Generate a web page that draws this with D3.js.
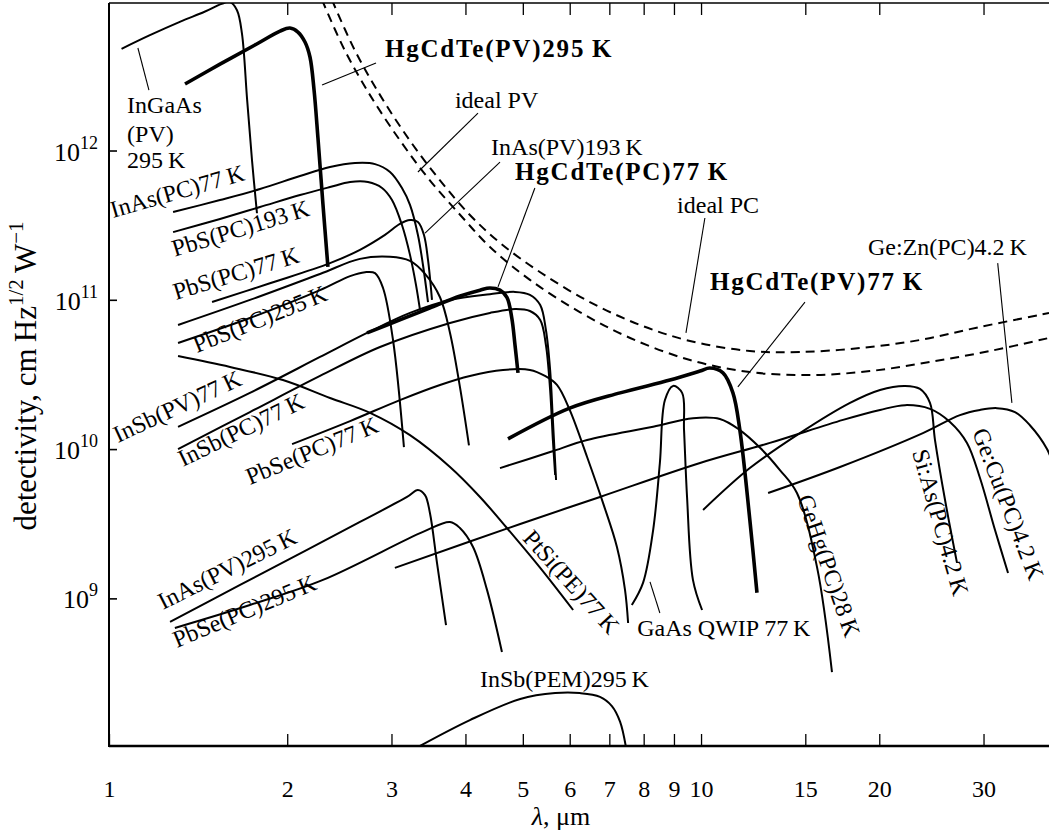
<!DOCTYPE html>
<html>
<head>
<meta charset="utf-8">
<script src="https://cdn.jsdelivr.net/npm/d3@7"></script>
<style>
  body { margin: 0; background: #fff; }
  svg text { font-family: "Liberation Serif", serif; fill: #000; }
</style>
</head>
<body>
<svg width="1049" height="832"></svg>
<script>
// axis ticks
var xTickValues = [1, 2, 3, 4, 5, 6, 7, 8, 9, 10, 15, 20, 30];
var yTickPowers = [9, 10, 11, 12];

// curves: wavelength (um) and detectivity (cm Hz^1/2 W^-1)
var lamInGaAs = [1.05, 1.17, 1.32, 1.45, 1.55, 1.60, 1.645, 1.677, 1.711, 1.744, 1.778];
var dInGaAs   = [4.8e12, 5.9e12, 7.3e12, 8.5e12, 9.6e12, 9.9e12, 8.7e12, 6.1e12, 2.2e12, 8.6e11, 3.8e11];

var lamHgCdTePV295 = [1.344, 1.54, 1.764, 1.945, 2.021, 2.085, 2.143, 2.185, 2.22, 2.254, 2.298, 2.343];
var dHgCdTePV295   = [2.79e12, 3.79e12, 5.09e12, 6.31e12, 6.61e12, 6.22e12, 5.33e12, 4.23e12, 2.54e12, 1.21e12, 4.38e11, 1.66e11];

var lamIdealPC = [2.38, 2.60, 2.87, 3.22, 3.62, 4.07, 4.58, 5.35, 6.49, 7.89, 9.58, 12.09, 14.69, 18.56, 23.43, 29.59, 38.7];
var dIdealPC   = [1.02e13, 4.71e12, 2.35e12, 1.17e12, 6.34e11, 3.70e11, 2.40e11, 1.53e11, 9.66e10, 6.78e10, 5.30e10, 4.54e10, 4.47e10, 4.75e10, 5.38e10, 6.58e10, 8.15e10];

var lamIdealPV = [2.29, 2.50, 2.76, 3.10, 3.48, 3.92, 4.40, 5.14, 6.24, 7.59, 9.58, 12.09, 15.28, 19.29, 24.36, 30.76, 38.7];
var dIdealPV   = [1.02e13, 4.71e12, 2.35e12, 1.17e12, 6.34e11, 3.70e11, 2.26e11, 1.36e11, 8.28e10, 5.55e10, 3.95e10, 3.28e10, 3.13e10, 3.33e10, 3.83e10, 4.54e10, 5.55e10];

var lamInAsPC77 = [1.283, 1.54, 1.799, 2.102, 2.362, 2.603, 2.814, 2.983, 3.125, 3.224, 3.325, 3.391, 3.458];
var dInAsPC77   = [3.87e11, 4.66e11, 5.52e11, 6.75e11, 7.75e11, 8.24e11, 8.11e11, 7.18e11, 5.61e11, 4.32e11, 2.72e11, 1.71e11, 9.66e10];

var lamPbSPC193 = [1.283, 1.54, 1.799, 2.102, 2.362, 2.554, 2.738, 2.892, 3.006, 3.125, 3.224, 3.30, 3.352];
var dPbSPC193   = [2.84e11, 3.48e11, 4.18e11, 5.03e11, 5.69e11, 6.15e11, 6.15e11, 5.61e11, 4.66e11, 3.17e11, 2.0e11, 1.26e11, 8.55e10];

var lamInAsPV193 = [1.493, 1.87, 2.362, 2.654, 2.925, 3.10, 3.224, 3.325, 3.404, 3.458, 3.512];
var dInAsPV193   = [9.66e10, 1.29e11, 1.76e11, 2.16e11, 2.72e11, 3.22e11, 3.42e11, 3.32e11, 2.72e11, 1.85e11, 9.98e10];

var lamPbSPC77 = [1.308, 1.73, 2.272, 2.654, 2.983, 3.224, 3.418, 3.623, 3.767, 3.915, 4.055];
var dPbSPC77   = [6.78e10, 9.98e10, 1.49e11, 1.88e11, 1.94e11, 1.82e11, 1.49e11, 1.04e11, 6.0e10, 2.61e10, 1.06e10];

var lamPbSPC295 = [1.308, 1.73, 2.272, 2.554, 2.707, 2.814, 2.903, 3.018, 3.149];
var dPbSPC295   = [5.14e10, 7.55e10, 1.16e11, 1.44e11, 1.53e11, 1.51e11, 1.20e11, 5.38e10, 1.03e10];

var lamHgCdTePC77 = [2.728, 3.10, 3.48, 3.92, 4.233, 4.40, 4.575, 4.70, 4.79, 4.85, 4.907];
var dHgCdTePC77   = [6.0e10, 7.33e10, 8.81e10, 1.06e11, 1.16e11, 1.20e11, 1.16e11, 1.04e11, 7.55e10, 4.98e10, 3.24e10];

var lamInSbPV77 = [1.308, 1.73, 2.272, 2.728, 3.224, 3.767, 4.40, 4.85, 5.14, 5.35, 5.47, 5.56, 5.62, 5.69];
var dInSbPV77   = [1.41e10, 2.38e10, 4.14e10, 6.0e10, 8.17e10, 9.98e10, 1.09e11, 1.13e11, 1.08e11, 9.23e10, 6.28e10, 3.39e10, 1.57e10, 6.21e9];

var lamInSbPC77 = [1.308, 1.73, 2.272, 2.869, 3.767, 4.40, 4.85, 5.14, 5.35, 5.47, 5.56, 5.62, 5.67];
var dInSbPC77   = [1.0e10, 1.77e10, 3.09e10, 4.83e10, 7.0e10, 8.17e10, 8.67e10, 8.41e10, 7.33e10, 4.98e10, 2.49e10, 1.15e10, 6.7e9];

var lamPbSePC77 = [2.038, 2.554, 3.10, 3.623, 4.07, 4.63, 5.14, 5.45, 5.71, 6.0, 6.42, 6.83, 7.21, 7.44, 7.53];
var dPbSePC77   = [1.08e10, 1.54e10, 2.13e10, 2.69e10, 3.09e10, 3.39e10, 3.39e10, 3.09e10, 2.69e10, 1.83e10, 8.85e9, 4.36e9, 2.21e9, 1.14e9, 6.84e8];

var lamPtSi = [1.308, 1.601, 1.967, 2.362, 2.76, 3.224, 3.767, 4.233, 4.70, 5.35, 6.08];
var dPtSi   = [4.2e10, 3.55e10, 2.90e10, 2.20e10, 1.75e10, 1.24e10, 7.59e9, 4.78e9, 2.96e9, 1.60e9, 8.36e8];

var lamInAsPV295 = [1.268, 1.665, 2.16, 2.654, 3.187, 3.325, 3.418, 3.484, 3.581, 3.709];
var dInAsPV295   = [6.95e8, 1.23e9, 2.11e9, 3.25e9, 4.78e9, 5.32e9, 4.92e9, 3.73e9, 1.73e9, 6.63e8];

var lamPbSePC295 = [1.292, 1.73, 2.298, 3.391, 3.767, 3.915, 4.12, 4.35, 4.61];
var dPbSePC295   = [6.34e8, 9.03e8, 1.33e9, 2.79e9, 3.25e9, 2.96e9, 2.21e9, 1.14e9, 4.37e8];

var lamHgCdTePV77 = [4.72, 6.0, 7.30, 8.86, 9.96, 10.35, 10.89, 11.32, 11.63, 12.09, 12.43];
var dHgCdTePV77   = [1.17e10, 1.88e10, 2.38e10, 2.90e10, 3.33e10, 3.49e10, 3.24e10, 2.38e10, 1.34e10, 3.35e9, 1.09e9];

var lamGaAsQWIP = [7.64, 7.98, 8.30, 8.52, 8.69, 8.97, 9.29, 9.36, 9.47, 9.69, 10.04];
var dGaAsQWIP   = [9.03e8, 1.27e9, 2.87e9, 8.07e9, 2.13e10, 2.65e10, 2.38e10, 1.34e10, 4.78e9, 1.33e9, 8.36e8];

var lamGeHg = [4.575, 5.56, 6.42, 8.30, 9.69, 10.76, 11.63, 12.58, 13.59, 14.52, 15.70, 16.64];
var dGeHg   = [7.46e9, 9.55e9, 1.15e10, 1.41e10, 1.61e10, 1.59e10, 1.34e10, 1.02e10, 7.24e9, 5.08e9, 1.62e9, 3.21e8];

var lamSiAs = [10.08, 12.09, 14.69, 17.85, 20.06, 22.11, 23.43, 24.36, 24.84, 25.83, 27.06];
var dSiAs   = [3.91e9, 7.46e9, 1.28e10, 2.04e10, 2.49e10, 2.65e10, 2.53e10, 2.04e10, 1.15e10, 4.56e9, 1.73e9];

var lamGeCu = [3.04, 4.95, 6.75, 9.96, 13.07, 17.37, 20.06, 22.11, 24.36, 26.33, 28.13, 29.59, 31.37, 33.0];
var dGeCu   = [1.60e9, 3.15e9, 4.78e9, 8.07e9, 1.10e10, 1.57e10, 1.83e10, 1.97e10, 1.86e10, 1.52e10, 1.10e10, 6.40e9, 2.87e9, 1.48e9];

var lamGeZn = [12.98, 17.17, 23.7, 27.37, 29.59, 31.61, 33.9, 35.9, 38.4, 39.6];
var dGeZn   = [5.08e9, 7.59e9, 1.28e10, 1.69e10, 1.83e10, 1.88e10, 1.77e10, 1.45e10, 1.0e10, 7.24e9];

var lamInSbPEM = [3.31, 4.07, 4.95, 5.67, 6.24, 6.75, 7.07, 7.30, 7.47];
var dInSbPEM   = [1.0e8, 1.53e8, 2.12e8, 2.32e8, 2.32e8, 2.19e8, 1.90e8, 1.49e8, 1.0e8];

// labels: text, anchor wavelength, anchor detectivity, rotation, bold
var labelText = ["HgCdTe(PV)295\u2009K", "InGaAs", "(PV)", "295\u2009K", "ideal PV", "InAs(PV)193\u2009K",
  "HgCdTe(PC)77\u2009K", "ideal PC", "HgCdTe(PV)77\u2009K", "Ge:Zn(PC)4.2\u2009K", "GaAs QWIP 77\u2009K",
  "InSb(PEM)295\u2009K", "InAs(PC)77\u2009K", "PbS(PC)193\u2009K", "PbS(PC)77\u2009K", "PbS(PC)295\u2009K",
  "InSb(PV)77\u2009K", "InSb(PC)77\u2009K", "PbSe(PC)77\u2009K", "InAs(PV)295\u2009K", "PbSe(PC)295\u2009K",
  "PtSi(PE)77\u2009K", "GeHg(PC)28\u2009K", "Si:As(PC)4.2\u2009K", "Ge:Cu(PC)4.2\u2009K"];
var labelLam = [2.925, 1.073, 1.073, 1.073, 3.84, 4.42, 4.85, 9.11, 10.35, 19.14, 7.80, 4.233,
  1.016, 1.292, 1.298, 1.408, 1.036, 1.334, 1.73, 1.234, 1.303, 4.98, 14.52, 22.72, 28.68];
var labelD = [4.23e12, 1.78e12, 1.14e12, 7.64e11, 1.93e12, 9.33e11, 6.34e11, 3.81e11, 1.16e11, 2.0e11, 5.6e8, 2.55e8,
  3.53e11, 1.94e11, 9.98e10, 4.40e10, 1.10e10, 7.59e9, 5.74e9, 8.36e8, 4.66e8, 2.50e9, 4.70e9, 9.55e9, 1.30e10];
var labelAngle = [0, 0, 0, 0, 0, 0, 0, 0, 0, 0, 0, 0, -16, -17, -17, -22, -25, -26, -22.5, -26.6, -22.7, 48, 71, 74, 69];
var labelBold = ["HgCdTe(PV)295\u2009K", "HgCdTe(PC)77\u2009K", "HgCdTe(PV)77\u2009K"];

// leader lines: [lam1, d1, lam2, d2]
var leaders = [
  [1.119, 4.86e12, 1.168, 2.54e12],
  [2.825, 3.85e12, 2.29, 2.75e12],
  [4.20, 1.78e12, 3.325, 7.18e11],
  [4.575, 8.37e11, 3.418, 2.80e11],
  [5.24, 5.61e11, 4.54, 1.22e11],
  [10.15, 3.53e11, 9.43, 6.0e10],
  [14.98, 9.66e10, 11.54, 2.61e10],
  [31.7, 1.76e11, 33.5, 2.04e10],
  [8.20, 1.29e9, 8.52, 7.98e8]
];

function main() {
  var svg = d3.select("svg");
  var left = 109, right = 1049, top = 3, bottom = 746;

  var x = d3.scaleLog().domain([1, 38.7]).range([left, right]);
  var y = d3.scaleLog().domain([1.026e8, 9.73e12]).range([bottom, top]);

  svg.append("clipPath").attr("id", "plot")
     .append("rect").attr("x", left).attr("y", top).attr("width", right - left).attr("height", bottom - top);

  var thin = 2, thick = 3.6;
  var series = [
    { lam: lamIdealPC, d: dIdealPC, w: 2, dash: "9,6" },
    { lam: lamIdealPV, d: dIdealPV, w: 2, dash: "9,6" },
    { lam: lamInGaAs, d: dInGaAs, w: thin },
    { lam: lamHgCdTePV295, d: dHgCdTePV295, w: thick },
    { lam: lamInAsPC77, d: dInAsPC77, w: thin },
    { lam: lamPbSPC193, d: dPbSPC193, w: thin },
    { lam: lamInAsPV193, d: dInAsPV193, w: thin },
    { lam: lamPbSPC77, d: dPbSPC77, w: thin },
    { lam: lamPbSPC295, d: dPbSPC295, w: thin },
    { lam: lamHgCdTePC77, d: dHgCdTePC77, w: thick },
    { lam: lamInSbPV77, d: dInSbPV77, w: thin },
    { lam: lamInSbPC77, d: dInSbPC77, w: thin },
    { lam: lamPbSePC77, d: dPbSePC77, w: thin },
    { lam: lamPtSi, d: dPtSi, w: thin },
    { lam: lamInAsPV295, d: dInAsPV295, w: thin },
    { lam: lamPbSePC295, d: dPbSePC295, w: thin },
    { lam: lamHgCdTePV77, d: dHgCdTePV77, w: thick },
    { lam: lamGaAsQWIP, d: dGaAsQWIP, w: thin },
    { lam: lamGeHg, d: dGeHg, w: thin },
    { lam: lamSiAs, d: dSiAs, w: thin },
    { lam: lamGeCu, d: dGeCu, w: thin },
    { lam: lamGeZn, d: dGeZn, w: thin },
    { lam: lamInSbPEM, d: dInSbPEM, w: thin }
  ];

  var line = d3.line()
    .x(function(p) { return x(p[0]); })
    .y(function(p) { return y(p[1]); })
    .curve(d3.curveCatmullRom.alpha(0.5));

  var g = svg.append("g").attr("clip-path", "url(#plot)");
  g.selectAll("path.curve")
    .data(series)
    .enter().append("path")
    .attr("class", "curve")
    .attr("fill", "none")
    .attr("stroke", "#000")
    .attr("stroke-width", function(s) { return s.w; })
    .attr("stroke-dasharray", function(s) { return s.dash || null; })
    .attr("d", function(s) { return line(s.lam.map(function(l, i) { return [l, s.d[i]]; })); });

  // leaders
  g.selectAll("line.leader")
    .data(leaders)
    .enter().append("line")
    .attr("stroke", "#000").attr("stroke-width", 1.1)
    .attr("x1", function(l) { return x(l[0]); }).attr("y1", function(l) { return y(l[1]); })
    .attr("x2", function(l) { return x(l[2]); }).attr("y2", function(l) { return y(l[3]); });

  // labels
  svg.selectAll("text.lbl")
    .data(labelText)
    .enter().append("text")
    .attr("class", "lbl")
    .attr("font-size", function(t) { return labelBold.indexOf(t) >= 0 ? "25px" : "24px"; })
    .attr("font-weight", function(t) { return labelBold.indexOf(t) >= 0 ? "bold" : "normal"; })
    .attr("letter-spacing", function(t) { return labelBold.indexOf(t) >= 0 ? "1.8px" : null; })
    .attr("transform", function(t, i) {
      return "translate(" + x(labelLam[i]) + "," + y(labelD[i]) + ") rotate(" + labelAngle[i] + ")";
    })
    .text(function(t) { return t; });

  // axes
  var bottomAxis = d3.axisBottom(x).tickValues(xTickValues).tickSize(-12).tickPadding(34)
    .tickFormat(d3.format("d"));
  var ax = svg.append("g").attr("transform", "translate(0," + bottom + ")").call(bottomAxis);
  ax.select(".domain").remove();
  ax.selectAll("text").attr("font-size", "24px").attr("font-family", "Liberation Serif");
  ax.selectAll("line").attr("stroke-width", 1.3);

  var topAxis = d3.axisTop(x).tickValues(xTickValues.slice(1)).tickSize(-12).tickFormat("");
  var axT = svg.append("g").attr("transform", "translate(0," + top + ")").call(topAxis);
  axT.select(".domain").remove();
  axT.selectAll("line").attr("stroke-width", 1.3);

  var yTickValues = yTickPowers.map(function(p) { return Math.pow(10, p); });
  var leftAxis = d3.axisLeft(y).tickValues(yTickValues).tickSize(-8).tickFormat("");
  var axL = svg.append("g").attr("transform", "translate(" + left + ",0)").call(leftAxis);
  axL.select(".domain").remove();
  axL.selectAll("line").attr("stroke-width", 1.6);

  var yl = svg.selectAll("text.ylab")
    .data(yTickPowers)
    .enter().append("text")
    .attr("class", "ylab")
    .attr("text-anchor", "end")
    .attr("font-size", "26px")
    .attr("x", 98)
    .attr("y", function(p) { return y(Math.pow(10, p)) + 10; });
  yl.append("tspan").text("10");
  yl.append("tspan").attr("dy", -12).attr("font-size", "18px").text(function(p) { return p; });

  // frame
  svg.append("line").attr("x1", left).attr("x2", left).attr("y1", top).attr("y2", bottom + 1)
     .attr("stroke", "#000").attr("stroke-width", 2);
  svg.append("line").attr("x1", left).attr("x2", right).attr("y1", bottom).attr("y2", bottom)
     .attr("stroke", "#000").attr("stroke-width", 2.4);
  svg.append("line").attr("x1", left).attr("x2", right).attr("y1", top).attr("y2", top)
     .attr("stroke", "#000").attr("stroke-width", 1.6);

  // axis titles
  svg.append("text")
     .attr("x", 561).attr("y", 825)
     .attr("text-anchor", "middle")
     .attr("font-size", "26px")
     .html("<tspan font-style='italic'>\u03bb</tspan>, \u03bcm");

  var yt = svg.append("text")
     .attr("transform", "translate(36,376) rotate(-90)")
     .attr("text-anchor", "middle")
     .attr("font-size", "31px");
  yt.append("tspan").text("detectivity, cm\u2009Hz");
  yt.append("tspan").attr("dy", -13).attr("font-size", "21px").text("1/2");
  yt.append("tspan").attr("dy", 13).text("\u2009W");
  yt.append("tspan").attr("dy", -13).attr("font-size", "21px").text("\u22121");
}
main();
</script>
</body>
</html>
